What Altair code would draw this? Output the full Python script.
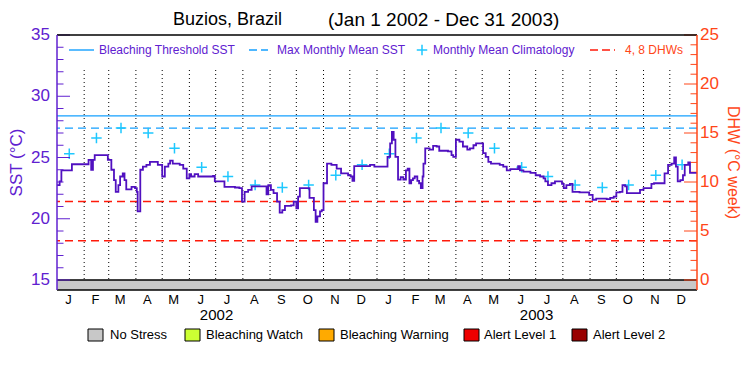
import altair as alt
import pandas as pd

# ---------------- data ----------------
START = pd.Timestamp("2002-01-01")

# daily SST (days since 2002-01-01, degC)
sst_day = [0, 3, 5, 17, 36, 39, 41, 43, 58, 62, 65, 67, 70, 72, 75, 77, 79, 85, 89, 91,
           92, 95, 98, 102, 106, 115, 120, 123, 127, 129, 132, 140, 144, 148, 151, 153, 157, 161, 178, 180,
           191, 203, 208, 211, 214, 218, 222, 239, 241, 244, 247, 251, 254, 257, 260, 267, 270, 273, 275, 277,
           288, 293, 295, 297, 300, 302, 304, 308, 313, 319, 324, 332, 335, 337, 339, 357, 362, 377, 380, 382,
           384, 386, 389, 392, 395, 398, 400, 402, 404, 406, 408, 411, 413, 415, 417, 418, 420, 425, 429, 433,
           436, 446, 450, 452, 455, 459, 463, 468, 471, 475, 478, 486, 489, 492, 495, 505, 509, 513, 517, 526,
           528, 532, 540, 546, 551, 555, 557, 560, 564, 568, 576, 578, 581, 585, 588, 596, 607, 611, 615, 627,
           631, 635, 638, 642, 645, 648, 650, 665, 669, 678, 681, 693, 697, 701, 704, 706, 708, 711, 714, 716,
           720, 722, 730]
sst_value = [22.75, 23.05, 23.95, 24.45, 24.8, 24.0, 24.8, 25.2, 24.8, 24.0, 23.15, 22.2, 22.75, 23.45, 23.7, 23.15, 22.4, 22.6, 22.5, 22.2,
             20.6, 24.0, 24.25, 24.4, 24.65, 24.4, 23.45, 24.25, 24.5, 24.75, 24.5, 24.4, 24.1, 23.3, 23.65, 23.45, 23.65, 23.45, 23.5, 23.05,
             22.6, 22.55, 22.5, 21.4, 22.2, 22.35, 22.65, 22.0, 22.75, 22.35, 22.1, 21.4, 20.5, 20.7, 21.05, 21.1, 21.4, 20.85, 21.8, 22.5,
             21.7, 20.7, 19.75, 20.2, 20.6, 20.7, 22.9, 24.5, 24.4, 24.1, 23.7, 23.55, 23.45, 23.1, 24.3, 24.4, 24.25, 25.05, 26.15, 27.1,
             26.45, 25.05, 23.2, 23.4, 23.2, 23.95, 24.1, 22.9, 23.15, 23.3, 23.45, 23.1, 22.9, 22.5, 23.45, 24.5, 25.75, 25.65, 25.95, 25.9,
             25.55, 25.5, 25.2, 25.05, 26.45, 26.3, 25.9, 25.65, 25.75, 26.0, 26.15, 25.35, 25.05, 24.65, 24.5, 24.4, 24.25, 23.95, 24.05, 24.3,
             23.95, 23.85, 23.75, 23.55, 23.45, 23.3, 23.05, 22.75, 22.9, 23.05, 22.85, 22.5, 22.75, 22.85, 22.2, 22.15, 21.95, 21.55, 21.65, 21.6,
             21.7, 21.8, 22.15, 22.2, 22.75, 22.65, 22.1, 22.35, 22.5, 22.85, 22.9, 23.7, 24.4, 24.5, 25.0, 24.25, 23.05, 23.15, 23.55, 24.4,
             24.6, 23.75, 23.75]

years = [2002, 2003]
month_letters = ["J", "F", "M", "A", "M", "J", "J", "A", "S", "O", "N", "D"]
monthly_mean_climatology = [25.3, 26.6, 27.4, 27.0, 25.75, 24.2, 23.45, 22.75, 22.55, 22.75, 23.55, 24.4]

bleaching_threshold = 28.4
max_monthly_mean = 27.4
dhw_levels = [4, 8]
dhw_day = [0, 730]
dhw_value = [0, 0]

sst_major = [15, 20, 25, 30, 35]
sst_minor = [v for v in range(16, 35) if v % 5]
dhw_major = [0, 5, 10, 15, 20, 25]
dhw_minor = [v for v in range(1, 25) if v % 5]

alert_levels = ["No Stress", "Bleaching Watch", "Bleaching Warning", "Alert Level 1", "Alert Level 2"]
alert_colors = ["#c8c8c8", "#ccff33", "#ffaa00", "#ee0000", "#990000"]
alert_start = ["2002-01-01"]
alert_end = ["2004-01-01"]
alert_status = ["No Stress"]

title_place = "Buzios, Brazil"
title_period = "(Jan 1 2002 - Dec 31 2003)"
sst_title = "SST (°C)"
dhw_title = "DHW (°C week)"
legend_labels = ["Bleaching Threshold SST", "Max Monthly Mean SST", "Monthly Mean Climatology", "4, 8 DHWs"]

# ---------------- layout / style ----------------
W, H = 640, 255
FONT = "Liberation Sans"
PURPLE = "#6020d0"
LINE = "#5010c0"
ORANGE = "#ff4618"
RED = "#ff1a0a"
BLUE = "#14a0ff"
CYAN = "#1ec8ff"
SST_DOMAIN = [15 - 10 / 12.25, 35]
DHW_DOMAIN = [-10 / 9.8, 25]

sst_df = pd.DataFrame({"date": START + pd.to_timedelta(sst_day, unit="D"), "sst": sst_value})
dhw_df = pd.DataFrame({"date": START + pd.to_timedelta(dhw_day, unit="D"), "dhw": dhw_value})
clim_df = pd.DataFrame({
    "date": [pd.Timestamp(y, m + 1, 15) for y in years for m in range(12)],
    "sst": [monthly_mean_climatology[m] for y in years for m in range(12)],
})
month_df = pd.DataFrame({
    "date": [pd.Timestamp(y, m + 1, 14) for y in years for m in range(12)],
    "label": [month_letters[m] for y in years for m in range(12)],
})
year_df = pd.DataFrame({"date": [pd.Timestamp(y, 7, 2) for y in years], "label": [str(y) for y in years]})
mstart_df = pd.DataFrame({"date": [d for d in pd.date_range("2002-02-01", "2003-12-01", freq="MS")]})
alert_df = pd.DataFrame({"start": pd.to_datetime(alert_start), "end": pd.to_datetime(alert_end), "status": alert_status})

x_scale = alt.Scale(domain=[alt.DateTime(year=2002, month=1, date=1), alt.DateTime(year=2004, month=1, date=1)])
sst_scale = alt.Scale(domain=SST_DOMAIN, nice=False, zero=False)
dhw_scale = alt.Scale(domain=DHW_DOMAIN, nice=False, zero=False)
alert_scale = alt.Scale(domain=alert_levels, range=alert_colors)


def xdate(field="date"):
    return alt.X(f"{field}:T", scale=x_scale, axis=None, title=None)


def ysst(field="sst"):
    return alt.Y(f"{field}:Q", scale=sst_scale, axis=None, title=None)


def ydhw(field="dhw"):
    return alt.Y(f"{field}:Q", scale=dhw_scale, axis=None, title=None)


one = pd.DataFrame({"k": [0]})

# ---------------- DHW group ----------------
alert_bar = alt.Chart(alert_df).mark_rect().encode(
    x=xdate("start"), x2="end:T",
    y=alt.value(245), y2=alt.value(255),
    color=alt.Color("status:N", scale=alert_scale, legend=None),
)
dhw_lines = alt.Chart(pd.DataFrame({"dhw": dhw_levels})).mark_rule(
    color=RED, strokeDash=[8, 5], strokeWidth=1.5).encode(y=ydhw())
dhw_line = alt.Chart(dhw_df).mark_line(color="black", strokeWidth=1.3).encode(x=xdate(), y=ydhw())
dhw_tmaj = alt.Chart(pd.DataFrame({"v": dhw_major})).mark_rule(color=ORANGE).encode(
    y=ydhw("v"), x=alt.value(W), x2=alt.value(W - 13))
dhw_tmin = alt.Chart(pd.DataFrame({"v": dhw_minor})).mark_rule(color=ORANGE).encode(
    y=ydhw("v"), x=alt.value(W), x2=alt.value(W - 6.5))
dhw_labels = alt.Chart(pd.DataFrame({"v": dhw_major})).mark_text(
    font=FONT, fontSize=17, color=ORANGE, align="left", baseline="middle").encode(
    y=ydhw("v"), x=alt.value(W + 3), text=alt.Text("v:Q", format="d"))
dhw_group = alt.layer(alert_bar, dhw_lines, dhw_line, dhw_tmaj, dhw_tmin, dhw_labels)

# ---------------- SST group ----------------
mlines = alt.Chart(mstart_df).mark_rule(color="black", strokeDash=[1, 3], strokeWidth=1).encode(
    x=xdate(), y=alt.value(35), y2=alt.value(245))
thr = alt.Chart(pd.DataFrame({"sst": [bleaching_threshold]})).mark_rule(color=BLUE, strokeWidth=1.4).encode(y=ysst())
mmm = alt.Chart(pd.DataFrame({"sst": [max_monthly_mean]})).mark_rule(
    color=BLUE, strokeWidth=1.4, strokeDash=[8, 5]).encode(y=ysst())
clim = alt.Chart(clim_df).mark_point(shape="M-1,0L1,0M0,-1L0,1", size=110, filled=False, color=CYAN,
                                     strokeWidth=1.5, opacity=1).encode(x=xdate(), y=ysst())
sst_line = alt.Chart(sst_df).mark_line(color=LINE, strokeWidth=1.8, interpolate="step-after").encode(
    x=xdate(), y=ysst())
sst_tmaj = alt.Chart(pd.DataFrame({"v": sst_major})).mark_rule(color=PURPLE).encode(
    y=ysst("v"), x=alt.value(0), x2=alt.value(13))
sst_tmin = alt.Chart(pd.DataFrame({"v": sst_minor})).mark_rule(color=PURPLE).encode(
    y=ysst("v"), x=alt.value(0), x2=alt.value(6.5))
sst_labels = alt.Chart(pd.DataFrame({"v": sst_major})).mark_text(
    font=FONT, fontSize=17, color=PURPLE, align="right", baseline="middle").encode(
    y=ysst("v"), x=alt.value(-7), text=alt.Text("v:Q", format="d"))
sst_group = alt.layer(mlines, thr, mmm, clim, sst_line, sst_tmaj, sst_tmin, sst_labels)

# ---------------- frame, texts and legends ----------------
deco = []
deco.append(alt.Chart(one).mark_rule(color="black", strokeWidth=1.5).encode(
    x=alt.value(0), x2=alt.value(W), y=alt.value(0)))
deco.append(alt.Chart(one).mark_rule(color="black", strokeWidth=1.5).encode(
    x=alt.value(0), x2=alt.value(W), y=alt.value(H)))
deco.append(alt.Chart(one).mark_rule(color=PURPLE, strokeWidth=1.5).encode(
    x=alt.value(0), y=alt.value(0), y2=alt.value(H)))
deco.append(alt.Chart(one).mark_rule(color=ORANGE, strokeWidth=1.5).encode(
    x=alt.value(W), y=alt.value(0), y2=alt.value(H)))
deco.append(alt.Chart(pd.DataFrame({"t": [sst_title]})).mark_text(
    font=FONT, fontSize=17, color=PURPLE, angle=270, align="center", baseline="middle").encode(
    x=alt.value(-40), y=alt.value(H / 2), text="t:N"))
deco.append(alt.Chart(pd.DataFrame({"t": [dhw_title]})).mark_text(
    font=FONT, fontSize=16, color=ORANGE, angle=90, align="center", baseline="middle").encode(
    x=alt.value(676), y=alt.value(H / 2), text="t:N"))
deco.append(alt.Chart(month_df).mark_text(font=FONT, fontSize=13, color="black", baseline="middle").encode(
    x=xdate(), y=alt.value(265), text="label:N"))
deco.append(alt.Chart(year_df).mark_text(font=FONT, fontSize=15, color="black", baseline="middle").encode(
    x=xdate(), y=alt.value(280), text="label:N"))
deco.append(alt.Chart(pd.DataFrame({"t": [title_place]})).mark_text(
    font=FONT, fontSize=18, color="black", align="left", baseline="middle").encode(
    x=alt.value(116), y=alt.value(-15), text="t:N"))
deco.append(alt.Chart(pd.DataFrame({"t": [title_period]})).mark_text(
    font=FONT, fontSize=19, color="black", align="left", baseline="middle").encode(
    x=alt.value(271), y=alt.value(-15), text="t:N"))

# top legend
LY = 15
deco.append(alt.Chart(one).mark_rule(color=BLUE, strokeWidth=1.4).encode(
    x=alt.value(12), x2=alt.value(37), y=alt.value(LY)))
deco.append(alt.Chart(one).mark_rule(color=BLUE, strokeWidth=1.4, strokeDash=[8, 4]).encode(
    x=alt.value(192), x2=alt.value(211), y=alt.value(LY)))
deco.append(alt.Chart(one).mark_point(shape="M-1,0L1,0M0,-1L0,1", size=110, filled=False, color=CYAN,
                                      strokeWidth=1.5, opacity=1).encode(x=alt.value(365), y=alt.value(LY)))
deco.append(alt.Chart(one).mark_rule(color=RED, strokeWidth=1.5, strokeDash=[8, 4]).encode(
    x=alt.value(533), x2=alt.value(558), y=alt.value(LY)))
for lab, px, col in zip(legend_labels, [42, 220, 376, 568], [PURPLE, PURPLE, PURPLE, ORANGE]):
    deco.append(alt.Chart(pd.DataFrame({"t": [lab]})).mark_text(
        font=FONT, fontSize=12, color=col, align="left", baseline="middle").encode(
        x=alt.value(px), y=alt.value(LY), text="t:N"))

# bottom legend
BY = 300
for lab, col, sx, tx in zip(alert_levels, alert_colors, [31, 128, 262, 407, 515], [53, 149, 283, 427, 536]):
    deco.append(alt.Chart(one).mark_rect(color=col, stroke="black", strokeWidth=1).encode(
        x=alt.value(sx), x2=alt.value(sx + 15), y=alt.value(BY - 6), y2=alt.value(BY + 6)))
    deco.append(alt.Chart(pd.DataFrame({"t": [lab]})).mark_text(
        font=FONT, fontSize=13, color="black", align="left", baseline="middle").encode(
        x=alt.value(tx), y=alt.value(BY), text="t:N"))

chart = alt.layer(dhw_group, sst_group, *deco).resolve_scale(y="independent").properties(
    width=W, height=H,
    autosize=alt.AutoSizeParams(type="none"),
    padding={"left": 49, "top": 27, "right": 45, "bottom": 77},
).configure_view(stroke=None)

chart.save("out.html", embed_options={"renderer": "svg", "actions": False})
